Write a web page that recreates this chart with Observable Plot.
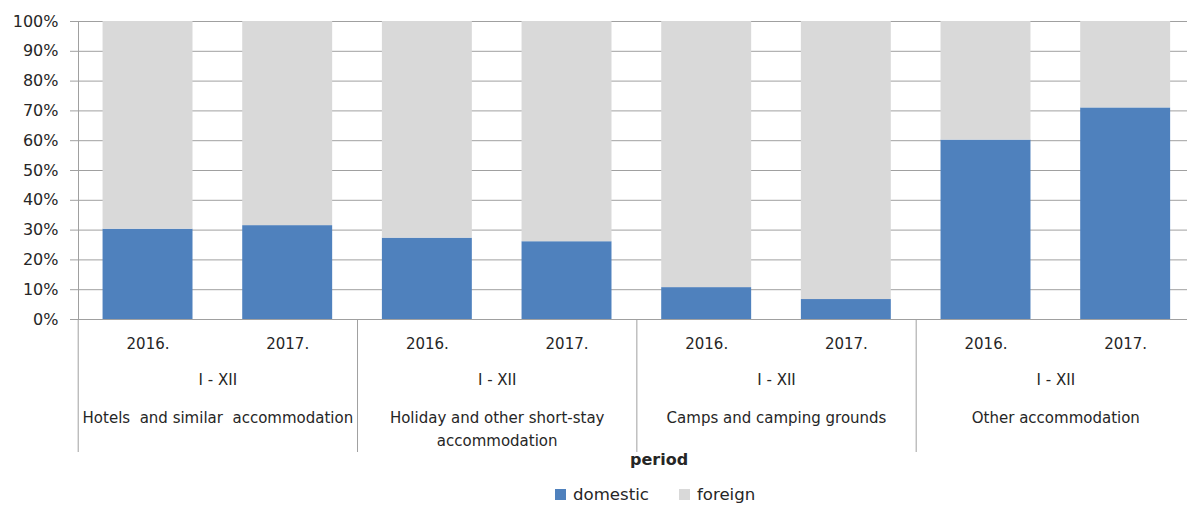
<!DOCTYPE html>
<html>
<head>
<meta charset="utf-8">
<script src="https://cdn.jsdelivr.net/npm/d3@7"></script>
<script src="https://cdn.jsdelivr.net/npm/@observablehq/plot@0.6"></script>
<style>
  html, body { margin: 0; padding: 0; background: #fff; overflow: hidden; }
  #wrap { position: relative; width: 1187px; height: 506px; font-family: "DejaVu Sans", sans-serif; color: #262626; }
  #period { position: absolute; left: 630px; top: 450px; font-weight: bold; font-size: 16px; }
  #legend { position: absolute; left: 555px; top: 485px; font-size: 16.6px; white-space: nowrap; }
  #legend span.item { display: inline-block; margin-right: 30px; }
  #legend span.sw { display: inline-block; width: 11px; height: 11px; margin-right: 7px; vertical-align: 0px; }
</style>
</head>
<body>
<div id="wrap">
  <div id="chart"></div>
  <div id="period"></div>
  <div id="legend"></div>
</div>
<script>
// ---- data ----
const groups = ["Hotels  and similar  accommodation", "Holiday and other short-stay\naccommodation", "Camps and camping grounds", "Other accommodation"];
const years = ["2016.", "2017."];
const periodLabel = "I - XII";
const axisTitle = "period";
const series = ["domestic", "foreign"];
const domestic = [30.3, 31.5, 27.3, 26.1, 10.7, 6.7, 60.2, 71.0];
const yTicks = [0, 10, 20, 30, 40, 50, 60, 70, 80, 90, 100];
const colors = ["#4F81BD", "#D9D9D9"];

// ---- derived table ----
const keys = domestic.map((d, i) => i);
const rows = [];
keys.forEach(i => {
  rows.push({key: i, series: series[0], value: domestic[i]});
  rows.push({key: i, series: series[1], value: 100 - domestic[i]});
});
const labelRows = keys.map(i => ({key: i, year: years[i % 2]}));
const groupRows = groups.map((g, j) => ({key: j * 2, name: g, period: periodLabel}));

const W = 1187, left = 77.7, right = 1195;
const step = (right - left) / keys.length;
const font = "'DejaVu Sans', sans-serif";
const grey = "#A0A0A0";
const ink = "#262626";

const chart = Plot.plot({
  width: W,
  height: 506,
  marginLeft: 78,
  marginRight: 0,
  marginTop: 21,
  marginBottom: 187,
  style: {fontFamily: font, fontSize: "15px", color: ink, background: "#fff", overflow: "visible"},
  x: {domain: keys, range: [left, right], paddingInner: 0.356, paddingOuter: 0.178, round: false, axis: null},
  y: {domain: [0, 100], ticks: yTicks, tickFormat: d => d + "%", label: null},
  color: {domain: series, range: colors},
  marks: [
    Plot.gridY(yTicks, {stroke: grey, strokeOpacity: 1, strokeWidth: 1}),
    Plot.axisY(yTicks, {tickSize: 8, stroke: grey, tickPadding: 12, fontSize: 16, fill: ink, label: null, tickFormat: d => d + "%"}),
    Plot.barY(rows, {x: "key", y: "value", fill: "series"}),
    Plot.frame({anchor: "left", stroke: grey}),
    Plot.ruleY([0], {stroke: grey}),
    Plot.ruleX(groupRows, {x: "key", dx: -step / 2, stroke: grey, insetTop: 298, insetBottom: -133}),
    Plot.text(labelRows, {x: "key", text: "year", frameAnchor: "bottom", dy: 29, fontSize: 15, fill: ink}),
    Plot.text(groupRows, {x: "key", text: "period", dx: step / 2, frameAnchor: "bottom", dy: 65, fontSize: 15, fill: ink}),
    Plot.text(groupRows, {x: "key", text: "name", dx: step / 2, frameAnchor: "bottom", dy: 87, lineAnchor: "top", lineHeight: 1.55, fontSize: 15, fill: ink})
  ]
});
document.getElementById("chart").appendChild(chart);

document.getElementById("period").textContent = axisTitle;
const leg = document.getElementById("legend");
series.forEach((s, i) => {
  const item = document.createElement("span");
  item.className = "item";
  const sw = document.createElement("span");
  sw.className = "sw";
  sw.style.background = colors[i];
  item.appendChild(sw);
  item.appendChild(document.createTextNode(s));
  leg.appendChild(item);
});
</script>
</body>
</html>
